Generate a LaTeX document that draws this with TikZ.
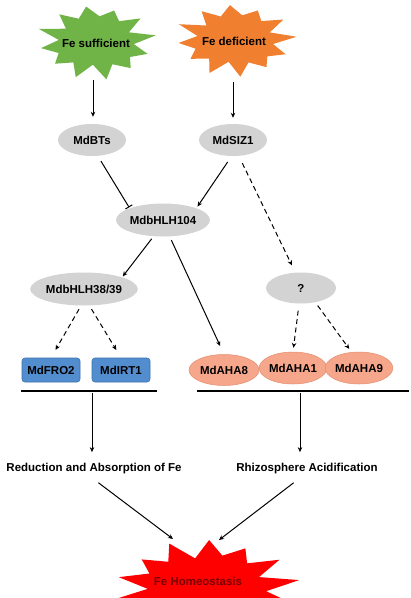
\documentclass[tikz,border=0pt]{standalone}
\usepackage{fontspec}
\setmainfont{Liberation Sans}
\usetikzlibrary{arrows.meta,shapes.geometric,calc}
\definecolor{cgreen}{RGB}{112,180,72}
\definecolor{corange}{RGB}{240,128,48}
\definecolor{cred}{RGB}{255,0,0}
\definecolor{cgray}{RGB}{211,211,211}
\definecolor{cblue}{RGB}{82,142,207}
\definecolor{cblueb}{RGB}{62,112,172}
\definecolor{csalmon}{RGB}{246,166,138}
\definecolor{csalmonb}{RGB}{226,142,112}
\definecolor{chometxt}{RGB}{120,0,0}
% cx cy rx ry ratio n rot color jitter
\newcommand\spikystar[9]{%
  \pgfmathtruncatemacro\spklast{2*#6-1}%
  \fill[#8] plot[samples at={0,1,...,\spklast}]
    ({#1+#3*(1-(1-#5)*mod(\x,2))*(1+#9*sin(\x*131))*cos(#7+\x*180/#6)},
     {#2+#4*(1-(1-#5)*mod(\x,2))*(1+#9*sin(\x*131))*sin(#7+\x*180/#6)}) -- cycle;}
\begin{document}
\begin{tikzpicture}[x=1pt,y=-1pt,
  every node/.style={font=\fontsize{11.5}{13}\selectfont\bfseries, text=black},
  grayell/.style={ellipse, fill=cgray, inner sep=0pt, minimum width=68pt, minimum height=32pt},
  bluebox/.style={rectangle, rounded corners=3pt, fill=cblue, draw=cblueb, line width=0.6pt, inner sep=0pt, minimum width=58pt, minimum height=24pt},
  salell/.style={ellipse, fill=csalmon, draw=csalmonb, line width=0.5pt, inner sep=0pt, minimum width=62pt, minimum height=32pt},
  conn/.style={line width=1pt, -{Stealth[length=5pt,width=4.5pt]}},
  dconn/.style={conn, dash pattern=on 5pt off 3.5pt},
  inhib/.style={line width=1pt, -{Bar[width=8pt,line width=1pt]}},
  bar/.style={line width=1.2pt}]
\useasboundingbox (0,0) rectangle (411,598);
\clip (0,0) rectangle (411,598);
\fill[white] (0,0) rectangle (411,598);
% stars
\spikystar{96}{42}{57}{36}{0.68}{12}{-100}{cgreen}{0.07}
\spikystar{235}{40}{58}{35}{0.68}{12}{-95}{corange}{0.07}
\spikystar{206}{590}{90}{50}{0.68}{14}{-88}{cred}{0.06}
\node (suff) at (96,43) {Fe sufficient};
\node (defi) at (234,41) {Fe deficient};
\node[text=chometxt] (home) at (198,581) {Fe Homeostasis};
\coordinate (suffb) at (93,80);
\coordinate (defib) at (233,82);
\coordinate (homeL) at (173,539);
\coordinate (homeR) at (219,540);
% gray nodes
\node[grayell] (bts) at (92,140) {MdBTs};
\node[grayell] (siz) at (233,140) {MdSIZ1};
\node[grayell, minimum width=70pt, minimum height=33pt] (h104) at (163,220) {MdbHLH104};
\node[grayell, minimum width=86pt, minimum height=33pt] (h38) at (84,289) {MdbHLH38/39};
\node[grayell, minimum width=70pt, minimum height=31pt] (q) at (301,288) {?};
% targets
\node[bluebox] (fro) at (51,370) {MdFRO2};
\node[bluebox] (irt) at (121,370) {MdIRT1};
\node[salell, minimum width=70pt, minimum height=31pt] (aha8) at (224,370) {MdAHA8};
\node[salell, minimum width=60pt] (aha1) at (293,368) {MdAHA1};
\node[salell] (aha9) at (359,368) {MdAHA9};
% bars
\coordinate (lbarA) at (21,391); \coordinate (lbarB) at (157,391);
\coordinate (rbarA) at (197,391); \coordinate (rbarB) at (409,391);
\coordinate (lmid) at (92,393); \coordinate (rmid) at (300,393);
\draw[bar] (lbarA) -- (lbarB);
\draw[bar] (rbarA) -- (rbarB);
% outcomes
\node (red) at (94,469) {Reduction and Absorption of Fe};
\node (rhi) at (307,469) {Rhizosphere Acidification};
% connectors
\draw[conn, shorten >=7pt] (suffb) -- (suffb |- bts.north);
\draw[conn, shorten >=6pt] (defib) -- (defib |- siz.north);
\draw[inhib, shorten <=6pt, shorten >=1pt] (bts.-70) -- (h104.north west);
\draw[conn, shorten <=7pt, shorten >=2pt] (siz.-95) -- (h104.north east);
\draw[dconn, shorten <=8pt, shorten >=8pt] (siz.-70) -- (q.110);
\draw[conn, shorten <=3pt, shorten >=1pt] (h104.-120) -- (h38.north east);
\draw[conn, shorten <=4pt, shorten >=9pt] (h104.-68) -- (aha8.north);
\draw[dconn, shorten <=4pt, shorten >=9pt] (h38.-100) -- (fro.north);
\draw[dconn, shorten <=4pt, shorten >=9pt] (h38.-72) -- (irt.north);
\draw[dconn, shorten <=7pt, shorten >=4pt] (q.-97) -- (aha1.north);
\draw[dconn, shorten <=4pt, shorten >=4pt] (q.-45) -- (aha9.115);
\draw[conn, shorten >=8pt] (lmid) -- (lmid |- red.north);
\draw[conn, shorten >=8pt] (rmid) -- (rmid |- rhi.north);
\draw[conn, shorten <=8pt] (lmid |- red.south) -- (homeL);
\draw[conn, shorten <=8pt] (rmid |- rhi.south) -- (homeR);
\end{tikzpicture}
\end{document}
